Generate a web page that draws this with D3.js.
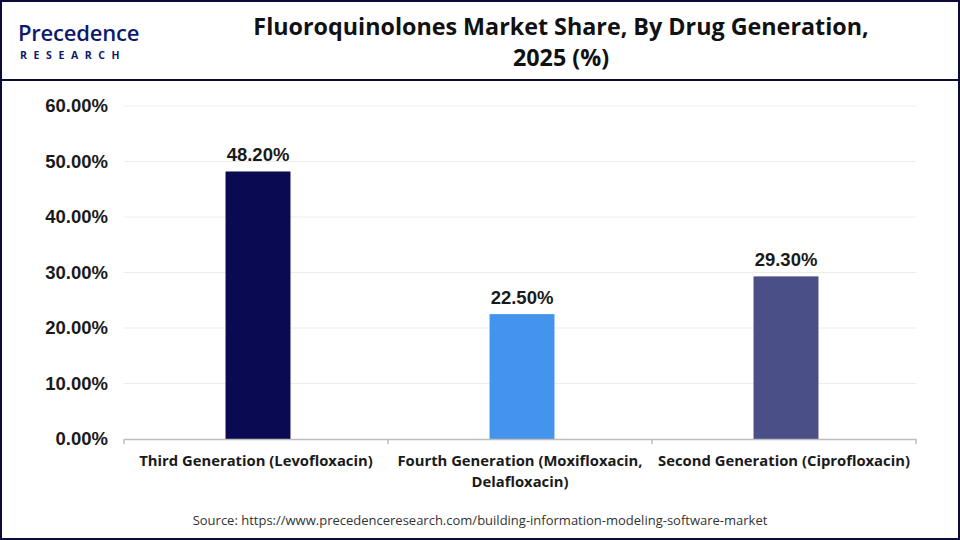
<!DOCTYPE html>
<html><head><meta charset="utf-8">
<script src="https://cdn.jsdelivr.net/npm/d3@7"></script>
<style>body{margin:0;background:#fff}svg{display:block}</style>
</head><body>
<script>
const categories = ["Third Generation (Levofloxacin)", "Fourth Generation (Moxifloxacin, Delafloxacin)", "Second Generation (Ciprofloxacin)"];
const values = [48.2, 22.5, 29.3];
const colors = ["#0a0a52", "#4494ee", "#4b4f88"];
const yTicks = [0, 10, 20, 30, 40, 50, 60];
const title = ["Fluoroquinolones Market Share, By Drug Generation,", "2025 (%)"];
const source = "Source: https://www.precedenceresearch.com/building-information-modeling-software-market";

const W = 960, H = 540;
const svg = d3.select("body").append("svg").attr("width", W).attr("height", H);
svg.append("rect").attr("x",1).attr("y",1).attr("width",W-2).attr("height",H-2).attr("fill","#fff").attr("stroke","#0b0b3b").attr("stroke-width",2);
svg.append("line").attr("x1",0).attr("x2",W).attr("y1",80).attr("y2",80).attr("stroke","#0b0b3b").attr("stroke-width",2);

// logo
const logo = svg.append("g");
logo.append("text").attr("x",18).attr("y",41).attr("font-family","'Open Sans', sans-serif").attr("font-size",22).attr("font-weight",600).attr("fill","#0f1a6e").attr("letter-spacing",-0.2).text("Precedence");
logo.append("text").attr("x",20).attr("y",59).attr("font-family","'Open Sans', sans-serif").attr("font-size",10.5).attr("font-weight",700).attr("fill","#0f1a6e").attr("letter-spacing",6.6).text("RESEARCH");

// title
const tf = "'Liberation Sans Narrow', 'Open Sans', sans-serif";
svg.selectAll("text.title").data(title).enter().append("text").attr("class","title")
  .attr("x",561).attr("y",(d,i)=>35+i*31).attr("text-anchor","middle")
  .attr("font-family",tf).attr("font-weight",700).attr("font-size",23.3).attr("fill","#111").text(d=>d);

const x0 = 124, x1 = 916, yTop = 106, yBot = 439;
const x = d3.scaleBand().domain(categories).range([x0 + 2, x1 + 2]).paddingInner(0.754).paddingOuter(0.377);
const xs = d3.scaleBand().domain(categories).range([x0, x1]);
const y = d3.scaleLinear().domain([0, 60]).range([yBot, yTop]);

// grid
svg.append("g").selectAll("line").data(yTicks.filter(t=>t>0)).enter().append("line")
  .attr("x1",x0).attr("x2",x1).attr("y1",d=>y(d)).attr("y2",d=>y(d)).attr("stroke","#ececec").attr("stroke-width",1);

// y axis labels
const ya = svg.append("g").attr("transform",`translate(${x0},0)`)
  .call(d3.axisLeft(y).tickValues(yTicks).tickSize(0).tickPadding(16).tickFormat(d=>d.toFixed(2)+"%"));
ya.select(".domain").remove();
ya.selectAll("text").attr("font-family","'Liberation Sans', Arial, sans-serif").attr("font-weight",700).attr("font-size",18.5).attr("fill","#1a1a1a");

// bars
svg.append("g").selectAll("rect").data(values).enter().append("rect")
  .attr("x",(d,i)=>x(categories[i])).attr("width",x.bandwidth())
  .attr("y",d=>y(d)).attr("height",d=>yBot-y(d)).attr("fill",(d,i)=>colors[i]);

// value labels
svg.append("g").selectAll("text").data(values).enter().append("text")
  .attr("x",(d,i)=>x(categories[i])+x.bandwidth()/2).attr("y",d=>y(d)-10).attr("text-anchor","middle")
  .attr("font-family","'Liberation Sans', Arial, sans-serif").attr("font-weight",700).attr("font-size",18.5).attr("fill","#1a1a1a")
  .text(d=>d.toFixed(2)+"%");

// x axis
const xa = svg.append("g").attr("transform",`translate(0,${yBot})`)
  .call(d3.axisBottom(xs).tickSize(0).tickFormat(""));
xa.select(".domain").attr("stroke","#bdbdbd").attr("stroke-width",1.5);
xa.selectAll(".tick").remove();
const tickXs = [x0].concat(categories.map(c=>xs(c)+xs.bandwidth()));
svg.append("g").selectAll("line").data(tickXs).enter().append("line")
  .attr("x1",d=>d).attr("x2",d=>d).attr("y1",yBot).attr("y2",yBot+5).attr("stroke","#bdbdbd").attr("stroke-width",1.5);

const labelLines = [["Third Generation (Levofloxacin)"],["Fourth Generation (Moxifloxacin,","Delafloxacin)"],["Second Generation (Ciprofloxacin)"]];
categories.forEach((c,i)=>{
  svg.append("text").attr("x",xs(c)+xs.bandwidth()/2).attr("y",466).attr("text-anchor","middle")
    .attr("font-family",tf).attr("font-weight",700).attr("font-size",14.8).attr("fill","#1a1a1a")
    .selectAll("tspan").data(labelLines[i]).enter().append("tspan")
    .attr("x",xs(c)+xs.bandwidth()/2).attr("dy",(d,j)=>j?21:0).text(d=>d);
});

svg.append("text").attr("x",480).attr("y",525).attr("text-anchor","middle")
  .attr("font-family",tf).attr("font-size",13).attr("fill","#333").text(source);
</script>
</body></html>
